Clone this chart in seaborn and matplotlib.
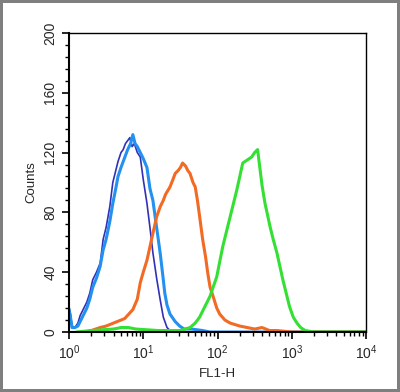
import numpy as np
import pandas as pd
import seaborn as sns
import matplotlib.pyplot as plt
from matplotlib.ticker import LogLocator, MultipleLocator, NullFormatter

# log10 of FL1-H intensity and event counts
navy_log = [0.0, 0.02, 0.04, 0.08, 0.12, 0.15, 0.2, 0.24, 0.28, 0.32, 0.37, 0.42, 0.46, 0.5,
            0.55, 0.59, 0.63, 0.66, 0.7, 0.73, 0.76, 0.79, 0.82, 0.85, 0.88, 0.92, 0.96, 1.0,
            1.05, 1.09, 1.13, 1.18, 1.23, 1.27, 1.32, 1.36, 1.4, 2.5, 4.0]
navy_cnt = [17, 12, 4, 3, 6, 11, 16, 20, 26, 35, 40, 46, 62, 70,
            84, 100, 108, 114, 120, 122, 126, 128, 130, 124, 126, 120, 117, 102,
            86, 70, 53, 36, 21, 10, 3, 1, 0, 0, 0]

blue_log = [0.0, 0.02, 0.04, 0.08, 0.12, 0.15, 0.2, 0.24, 0.28, 0.32, 0.37, 0.42, 0.46, 0.5,
            0.55, 0.59, 0.63, 0.66, 0.7, 0.73, 0.76, 0.79, 0.83, 0.86, 0.89, 0.92, 0.96, 1.0,
            1.05, 1.09, 1.13, 1.18, 1.23, 1.27, 1.29, 1.32, 1.36, 1.43, 1.49, 1.55, 1.65, 1.8,
            1.9, 4.0]
blue_cnt = [15, 10, 3, 3, 4, 7, 12, 16, 22, 30, 36, 44, 55, 62,
            74, 86, 96, 104, 110, 114, 118, 122, 126, 132, 126, 124, 120, 116,
            110, 96, 88, 70, 52, 35, 26, 18, 12, 7, 4, 2, 2, 1,
            0, 0]

orange_log = [0.2, 0.3, 0.42, 0.5, 0.6, 0.75, 0.86, 0.92, 0.96, 1.0, 1.05, 1.09, 1.13, 1.18,
              1.23, 1.27, 1.3, 1.36, 1.4, 1.43, 1.47, 1.5, 1.53, 1.57, 1.6, 1.63, 1.67, 1.7,
              1.73, 1.76, 1.8, 1.84, 1.87, 1.9, 1.94, 1.99, 2.03, 2.1, 2.17, 2.3, 2.4, 2.5,
              2.6, 2.7, 2.8, 3.0, 4.0]
orange_cnt = [0, 1, 3, 4, 6, 9, 15, 22, 33, 40, 48, 57, 66, 77,
              84, 88, 92, 97, 102, 106, 108, 110, 113, 111, 108, 106, 100, 97,
              88, 77, 62, 50, 39, 30, 24, 16, 12, 8, 6, 4, 3, 2,
              3, 1, 1, 0, 0]

green_log = [0.1, 0.3, 0.6, 0.7, 0.8, 0.9, 1.2, 1.5, 1.63, 1.7, 1.76, 1.83, 1.9, 1.99,
             2.07, 2.12, 2.17, 2.26, 2.3, 2.34, 2.4, 2.46, 2.5, 2.54, 2.57, 2.6, 2.64, 2.71,
             2.75, 2.8, 2.88, 2.93, 2.97, 3.02, 3.07, 3.12, 3.18, 3.3, 4.0]
green_cnt = [0, 1, 2, 3, 3, 2, 1, 1, 3, 6, 10, 17, 24, 37,
             57, 67, 77, 95, 104, 113, 115, 117, 120, 122, 110, 98, 86, 70,
             62, 53, 35, 25, 17, 10, 6, 3, 1, 0, 0]

series = [
    (navy_log, navy_cnt, '#3330b8', 1.2),
    (blue_log, blue_cnt, '#2291f0', 2.2),
    (orange_log, orange_cnt, '#f26a24', 2.2),
    (green_log, green_cnt, '#33e033', 2.2),
]

sns.set_style('ticks')
plt.rcParams['font.family'] = ['Liberation Sans', 'DejaVu Sans']
plt.rcParams['mathtext.fontset'] = 'custom'
plt.rcParams['mathtext.rm'] = 'Liberation Sans'

fig = plt.figure(figsize=(4.0, 3.92), dpi=100)
fig.patch.set_edgecolor('#7f7f7f')
fig.patch.set_linewidth(4)
ax = fig.add_axes([0.1725, 0.153, 0.7425, 0.763])

for xs, ys, col, lw in series:
    df = pd.DataFrame({'fl1': 10 ** np.array(xs), 'count': ys})
    sns.lineplot(data=df, x='fl1', y='count', color=col, linewidth=lw,
                 estimator=None, sort=True, ax=ax)

ax.set_xscale('log')
ax.set_xlim(1, 1e4)
ax.set_ylim(0, 200)
ax.xaxis.set_major_locator(LogLocator(base=10, numticks=10))
ax.xaxis.set_minor_locator(LogLocator(base=10, subs=np.arange(2, 10), numticks=50))
ax.xaxis.set_minor_formatter(NullFormatter())
ax.yaxis.set_major_locator(MultipleLocator(40))
ax.yaxis.set_minor_locator(MultipleLocator(8))

for s in ax.spines.values():
    s.set_color('black')
    s.set_linewidth(1.0)
ax.spines['left'].set_linewidth(1.5)
ax.spines['bottom'].set_linewidth(1.5)

ax.tick_params(which='major', direction='out', length=5, width=1.2, labelsize=10, color='black')
ax.tick_params(which='minor', direction='out', length=3, width=1.0, color='black')
ax.tick_params(axis='y', labelrotation=90)
for lab in ax.get_yticklabels():
    lab.set_va('center')

ax.set_xlabel('FL1-H', fontsize=9.5, labelpad=4)
ax.set_ylabel('Counts', fontsize=9.5, labelpad=4)

fig.savefig('out.png', dpi=100, edgecolor=fig.get_edgecolor(), facecolor='white')
